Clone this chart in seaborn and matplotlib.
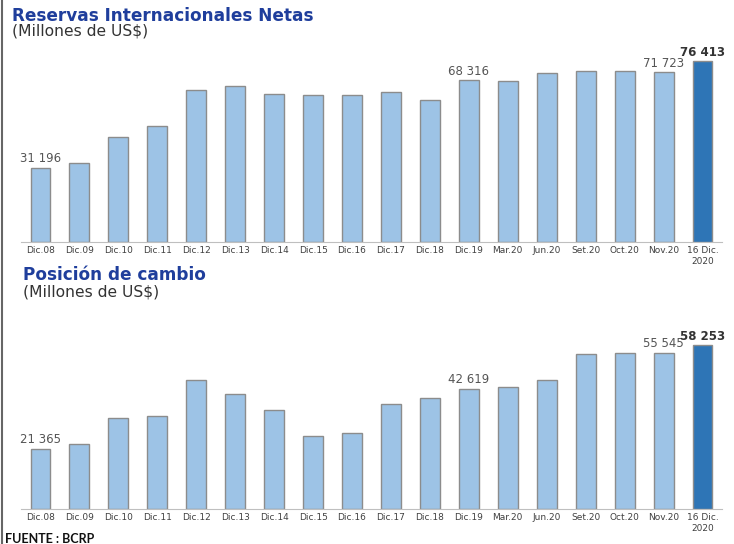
import matplotlib
matplotlib.use("Agg")
import matplotlib.pyplot as plt
import seaborn as sns
from matplotlib.lines import Line2D

# datos (millones de US$)
periodos = ["Dic.08", "Dic.09", "Dic.10", "Dic.11", "Dic.12", "Dic.13", "Dic.14",
            "Dic.15", "Dic.16", "Dic.17", "Dic.18", "Dic.19", "Mar.20", "Jun.20",
            "Set.20", "Oct.20", "Nov.20", "16 Dic.\n2020"]
rin = [31196, 33400, 44300, 49000, 64300, 65900, 62600, 62000, 62000, 63600,
       60200, 68316, 68000, 71300, 72400, 72400, 71723, 76413]
posicion = [21365, 23000, 32400, 33200, 46000, 41000, 35200, 25900, 26900, 37500,
            39400, 42619, 43500, 46000, 55200, 55500, 55545, 58253]
etiquetas_idx = [0, 11, 16, 17]

CLARO = "#9DC3E6"
OSCURO = "#2E75B6"
colores = [CLARO] * (len(periodos) - 1) + [OSCURO]

sns.set_style("white")
plt.rcParams["font.family"] = ["DejaVu Sans"]

W, H = 734, 544
fig = plt.figure(figsize=(W / 100, H / 100), dpi=100)


def panel(rect, valores, ymax):
    ax = fig.add_axes(rect)
    sns.barplot(x=periodos, y=valores, hue=periodos, palette=colores, legend=False,
                width=0.51, saturation=1, edgecolor="#8c8c8c", linewidth=1, ax=ax)
    ax.set_ylim(0, ymax)
    ax.set_xlim(-0.5, len(periodos) - 0.5)
    sns.despine(ax=ax, left=True)
    ax.spines["bottom"].set_color("#bfbfbf")
    ax.set_yticks([])
    ax.set_xlabel("")
    ax.set_ylabel("")
    ax.tick_params(axis="x", length=0, pad=3, labelsize=6.5, labelcolor="#404040")
    for i in etiquetas_idx:
        v = valores[i]
        ultimo = i == len(valores) - 1
        ax.annotate(f"{v:,}".replace(",", " "), (i, v), xytext=(0, 2),
                    textcoords="offset points", ha="center", va="bottom",
                    fontsize=8.5, color="#333333" if ultimo else "#555555",
                    fontweight="bold" if ultimo else "normal")
    return ax


panel([21 / W, (H - 242) / H, 701 / W, 187 / H], rin, 79100)
panel([21 / W, (H - 509) / H, 701 / W, 179 / H], posicion, 63700)

azul = "#1F3E9C"
fig.text(12 / W, 1 - 16 / H, "Reservas Internacionales Netas", fontsize=12.2,
         fontweight="bold", color=azul, va="center")
fig.text(12 / W, 1 - 31 / H, "(Millones de US$)", fontsize=11.2, color="#333333",
         va="center")
fig.text(23 / W, 1 - 275 / H, "Posición de cambio", fontsize=12.2,
         fontweight="bold", color=azul, va="center")
fig.text(23 / W, 1 - 292 / H, "(Millones de US$)", fontsize=11.2, color="#333333",
         va="center")
fig.text(5 / W, 1 - 539 / H, "FUENTE : BCRP", fontsize=9, fontweight="bold",
         family="Lato", color="#111111", va="center")

# borde izquierdo
fig.add_artist(Line2D([2 / W, 2 / W], [0, 1], color="#666666", linewidth=1.5,
                      transform=fig.transFigure))

fig.savefig("out.png", dpi=100)
